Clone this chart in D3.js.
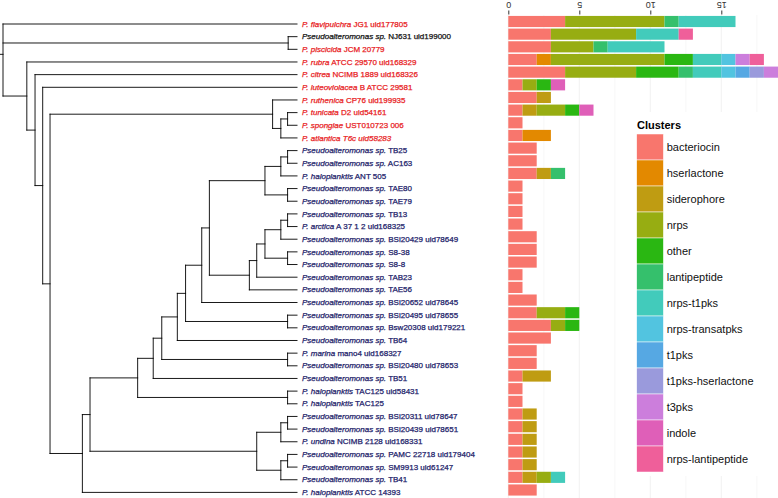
<!DOCTYPE html>
<html>
<head>
<meta charset="utf-8">
<script src="https://cdn.jsdelivr.net/npm/d3@7/dist/d3.min.js"></script>
<style>
  body { margin: 0; background: #fff; }
  svg { display: block; font-family: "Liberation Sans", Arial, sans-serif; }
</style>
</head>
<body>
<svg id="chart" width="778" height="498"></svg>
<script>
// Tip labels, top to bottom (italic part, plain part, label colour)
const species = [
    "P. flavipulchra", "Pseudoalteromonas sp.", "P. piscicida", "P. rubra", "P. citrea",
    "P. luteoviolacea", "P. ruthenica", "P. tunicata", "P. spongiae", "P. atlantica T6c uid58283",
    "Pseudoalteromonas sp.", "Pseudoalteromonas sp.", "P. haloplanktis", "Pseudoalteromonas sp.", "Pseudoalteromonas sp.",
    "Pseudoalteromonas sp.", "P. arctica", "Pseudoalteromonas sp.", "Pseudoalteromonas sp.", "Pseudoalteromonas sp.",
    "Pseudoalteromonas sp.", "Pseudoalteromonas sp.", "Pseudoalteromonas sp.", "Pseudoalteromonas sp.", "Pseudoalteromonas sp.",
    "Pseudoalteromonas sp.", "P. marina", "Pseudoalteromonas sp.", "Pseudoalteromonas sp.", "P. haloplanktis",
    "P. haloplanktis", "Pseudoalteromonas sp.", "Pseudoalteromonas sp.", "P. undina", "Pseudoalteromonas sp.",
    "Pseudoalteromonas sp.", "Pseudoalteromonas sp.", "P. haloplanktis"
];
const strains = [
    "JG1 uid177805", "NJ631 uid199000", "JCM 20779", "ATCC 29570 uid168329", "NCIMB 1889 uid168326",
    "B ATCC 29581", "CP76 uid199935", "D2 uid54161", "UST010723 006", "",
    "TB25", "AC163", "ANT 505", "TAE80", "TAE79",
    "TB13", "A 37 1 2 uid168325", "BSi20429 uid78649", "S8-38", "S8-8",
    "TAB23", "TAE56", "BSi20652 uid78645", "BSi20495 uid78655", "Bsw20308 uid179221",
    "TB64", "mano4 uid168327", "BSi20480 uid78653", "TB51", "TAC125 uid58431",
    "TAC125", "BSi20311 uid78647", "BSi20439 uid78651", "NCIMB 2128 uid168331", "PAMC 22718 uid179404",
    "SM9913 uid61247", "TB41", "ATCC 14393"
];
const labelGroup = [
    "r", "k", "r", "r", "r", "r", "r", "r", "r", "r",
    "b", "b", "b", "b", "b", "b", "b", "b", "b", "b",
    "b", "b", "b", "b", "b", "b", "b", "b", "b", "b",
    "b", "b", "b", "b", "b", "b", "b", "b"
];
const groupColor = { r: "#e8211e", k: "#111111", b: "#22226a" };

// Tree: [node depth, children...], a plain number is a tip row; tips sit at depth 100
const tree =
    [0, 1, [97, 2, 3],
        [8.1, 4,
            [10.9, 5,
                [13.5, 6,
                    [16,
                        [91.7, 7, [94.5, [96.8, 8, 9], 10]],
                        [27,
                            [29.6,
                                [45.8,
                                    [51.1,
                                        [54,
                                            [59.3,
                                                [62.1,
                                                    [67.6,
                                                        [70.2,
                                                            [89.1, [94.5, [96.8, 11, 12], 13], [96.8, 14, 15]],
                                                            [83.8, [86.3, [89.1, [94.5, [96.8, 16, 17], 18], [96.8, 19, 20]], 21], 22]],
                                                        23],
                                                    [96.8, 24, 25]],
                                                26],
                                            [96.8, 27, 28]],
                                        29],
                                    [96.8, 30, 31]],
                                [86.3, [94.5, [96.8, 32, 33], 34], [94.5, [96.8, 35, 36], 37]]],
                            38]]]]]];
const rootEdge = 1;

// Clusters (stack order) and colours
const clusters = ["bacteriocin", "hserlactone", "siderophore", "nrps", "other", "lantipeptide",
    "nrps-t1pks", "nrps-transatpks", "t1pks", "t1pks-hserlactone", "t3pks", "indole", "nrps-lantipeptide"];
const clusterColors = ["#f8766d", "#e38900", "#bf9c12", "#97ad12", "#2ab712", "#35c06c",
    "#42cbbb", "#52c4e0", "#56a8e3", "#9a9adc", "#cc7edc", "#df5fb8", "#ef5f9a"];

// Counts per cluster, one value per tip row
const bacteriocin =      [4,3,3,2,4,1,2,1,1,1, 2,2,2,1,1,1,1,2,2,2, 1,1,2,2,3,3,2,2,1,1, 1,1,1,1,1,1,1,2];
const hserlactone =      [0,0,0,1,0,0,0,0,0,2, 0,0,0,0,0,0,0,0,0,0, 0,0,0,0,0,0,0,0,0,0, 0,0,0,0,0,0,0,0];
const siderophore =      [0,0,0,0,0,0,1,1,0,0, 0,0,1,0,0,0,0,0,0,0, 0,0,0,0,0,0,0,0,2,0, 0,1,1,1,1,1,1,0];
const nrps =             [7,6,3,8,5,1,0,2,0,0, 0,0,0,0,0,0,0,0,0,0, 0,0,0,2,1,0,0,0,0,0, 0,0,0,0,0,0,1,0];
const other =            [0,0,0,2,3,1,0,1,0,0, 0,0,0,0,0,0,0,0,0,0, 0,0,0,1,1,0,0,0,0,0, 0,0,0,0,0,0,0,0];
const lantipeptide =     [1,0,1,0,1,0,0,0,0,0, 0,0,1,0,0,0,0,0,0,0, 0,0,0,0,0,0,0,0,0,0, 0,0,0,0,0,0,0,0];
const nrpsT1pks =        [4,3,4,2,2,0,0,0,0,0, 0,0,0,0,0,0,0,0,0,0, 0,0,0,0,0,0,0,0,0,0, 0,0,0,0,0,0,1,0];
const nrpsTransatpks =   [0,0,0,1,1,0,0,0,0,0, 0,0,0,0,0,0,0,0,0,0, 0,0,0,0,0,0,0,0,0,0, 0,0,0,0,0,0,0,0];
const t1pks =            [0,0,0,0,1,0,0,0,0,0, 0,0,0,0,0,0,0,0,0,0, 0,0,0,0,0,0,0,0,0,0, 0,0,0,0,0,0,0,0];
const t1pksHserlactone = [0,0,0,0,1,0,0,0,0,0, 0,0,0,0,0,0,0,0,0,0, 0,0,0,0,0,0,0,0,0,0, 0,0,0,0,0,0,0,0];
const t3pks =            [0,0,0,1,1,0,0,0,0,0, 0,0,0,0,0,0,0,0,0,0, 0,0,0,0,0,0,0,0,0,0, 0,0,0,0,0,0,0,0];
const indole =           [0,0,0,0,0,1,0,1,0,0, 0,0,0,0,0,0,0,0,0,0, 0,0,0,0,0,0,0,0,0,0, 0,0,0,0,0,0,0,0];
const nrpsLantipeptide = [0,1,0,1,0,0,0,0,0,0, 0,0,0,0,0,0,0,0,0,0, 0,0,0,0,0,0,0,0,0,0, 0,0,0,0,0,0,0,0];

const xTicks = [0, 5, 10, 15];

// table for the stack
const series = [bacteriocin, hserlactone, siderophore, nrps, other, lantipeptide, nrpsT1pks,
    nrpsTransatpks, t1pks, t1pksHserlactone, t3pks, indole, nrpsLantipeptide];
const rows = species.map((s, i) => {
    let d = { row: i + 1 };
    clusters.forEach((c, j) => { d[c] = series[j][i]; });
    return d;
});
const nTips = species.length;

let chart = d3.select("#chart");

// Tree scales
let xTree = d3.scaleLinear().domain([0, 100]).range([3, 297]);
let yTree = d3.scaleLinear().domain([1, nTips]).range([24, 492.4]);

// walk the tree, collecting branch segments (node y = mean of children)
let segments = [];
function layout(node) {
    if (typeof node === "number") return { y: node, depth: 100 };
    const depth = node[0];
    const kids = node.slice(1).map(layout);
    segments.push({ x1: depth, x2: depth, y1: d3.min(kids, k => k.y), y2: d3.max(kids, k => k.y) });
    kids.forEach(k => segments.push({ x1: depth, x2: k.depth, y1: k.y, y2: k.y }));
    return { y: d3.mean(kids, k => k.y), depth: depth };
}
const root = layout(tree);
segments.push({ x1: -rootEdge, x2: 0, y1: root.y, y2: root.y });

chart.append("g")
    .selectAll("line")
    .data(segments).enter()
    .append("line")
    .attr("x1", d => xTree(d.x1))
    .attr("x2", d => xTree(d.x2))
    .attr("y1", d => yTree(d.y1))
    .attr("y2", d => yTree(d.y2))
    .attr("stroke", "#000")
    .attr("stroke-width", 0.9)
    .attr("stroke-linecap", "square");

// Tip labels
let labels = chart.append("g")
    .selectAll("text")
    .data(species).enter()
    .append("text")
    .attr("x", xTree(100) + 5)
    .attr("y", (d, i) => yTree(i + 1))
    .attr("dy", "0.33em")
    .attr("fill", (d, i) => groupColor[labelGroup[i]])
    .attr("stroke", (d, i) => groupColor[labelGroup[i]])
    .attr("stroke-width", 0.25)
    .style("font-size", "8px");
labels.append("tspan").style("font-style", "italic").text(d => d);
labels.append("tspan").text((d, i) => strains[i] ? " " + strains[i] : "");

// Bar scales
let xBar = d3.scaleLinear().domain([0, 19]).range([508.3, 778.1]);
let yBar = d3.scaleBand().domain(rows.map(d => d.row)).range([15.17, 496.33]).paddingInner(0.12).paddingOuter(0.06);

// faint grid
const grid = chart.append("g");
grid.selectAll("line")
    .data(d3.range(0, 19, 2.5)).enter()
    .append("line")
    .attr("x1", d => xBar(d)).attr("x2", d => xBar(d))
    .attr("y1", 15).attr("y2", 498)
    .attr("stroke", d => d % 5 === 0 ? "#eeeeee" : "#f6f6f6")
    .attr("stroke-width", 0.8);

// stacked bars
const stacked = d3.stack().keys(clusters)(rows);
chart.append("g")
    .selectAll("g")
    .data(stacked).enter()
    .append("g")
    .attr("fill", (d, i) => clusterColors[i])
    .selectAll("rect")
    .data(d => d.filter(s => s[1] > s[0])).enter()
    .append("rect")
    .attr("x", d => xBar(d[0]))
    .attr("width", d => xBar(d[1]) - xBar(d[0]))
    .attr("y", d => yBar(d.data.row))
    .attr("height", yBar.bandwidth());

// Top axis, labels upside down
let axis = chart.append("g")
    .attr("transform", "translate(0,14.5)")
    .call(d3.axisTop(xBar).tickValues(xTicks).tickSize(4).tickSizeOuter(0));
axis.select(".domain").remove();
axis.selectAll(".tick line").attr("stroke", "#333");
axis.selectAll(".tick text")
    .attr("y", 0).attr("dy", null)
    .attr("transform", "translate(0,-9.5) rotate(180)")
    .attr("dominant-baseline", "central")
    .attr("fill", "#333")
    .style("font-size", "9px")
    .style("font-family", "'Liberation Sans', Arial, sans-serif");

// Legend
const legend = chart.append("g");
legend.append("rect")
    .attr("x", 630).attr("y", 112).attr("width", 148).attr("height", 364)
    .attr("fill", "#fff");
legend.append("text")
    .attr("x", 637).attr("y", 128.5)
    .text("Clusters")
    .style("font-size", "11px")
    .style("font-weight", "bold");
legend.selectAll(".swatch")
    .data(clusters).enter()
    .append("rect")
    .attr("class", "swatch")
    .attr("x", 636.7).attr("y", (d, i) => 134 + i * 26)
    .attr("width", 26.7).attr("height", 26)
    .attr("fill", (d, i) => clusterColors[i])
    .attr("stroke", "#fff").attr("stroke-width", 0.5);
legend.selectAll(".lab")
    .data(clusters).enter()
    .append("text")
    .attr("class", "lab")
    .attr("x", 666.7).attr("y", (d, i) => 134 + i * 26 + 13)
    .attr("dy", "0.35em")
    .text(d => d)
    .style("font-size", "11px")
    .attr("fill", "#111");
</script>
</body>
</html>
